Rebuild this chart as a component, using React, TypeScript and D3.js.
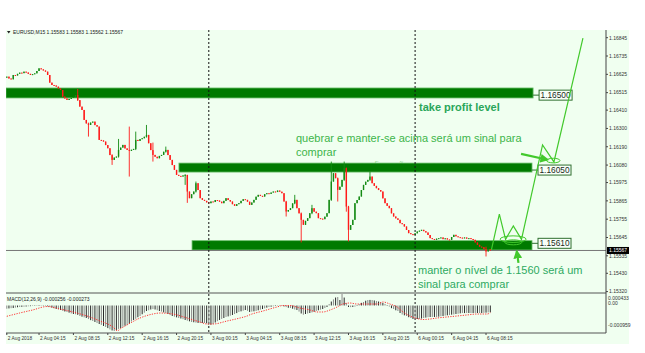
import React from 'react';
import * as d3 from 'd3';

// ---------- data ----------
const FIRST_BAR = 2; // bar index of first visible candle (2 Aug 00:30)
const BASE = 1.15;
// close prices, in 1e-5 above 1.15000, one per 15-min bar
const closePts = [
  1611, 1600, 1595, 1621, 1618, 1628, 1635, 1632, 1641, 1636,
  1628, 1621, 1626, 1631, 1645, 1661, 1655, 1648, 1641, 1621,
  1575, 1561, 1558, 1551, 1540, 1531, 1491, 1480, 1471, 1478,
  1483, 1490, 1501, 1470, 1431, 1411, 1351, 1330, 1321, 1335,
  1341, 1320, 1311, 1231, 1228, 1221, 1200, 1181, 1140, 1111,
  1125, 1131, 1171, 1185, 1201, 1180, 1171, 1165, 1172, 1177,
  1231, 1225, 1236, 1241, 1250, 1261, 1211, 1170, 1141, 1130,
  1121, 1135, 1141, 1160, 1171, 1140, 1111, 1080, 1051, 1021,
  1015, 1011, 1018, 1021, 921, 881, 905, 921, 971, 930,
  881, 871, 865, 856, 851, 861, 858, 870, 867, 860,
  851, 865, 881, 870, 861, 845, 835, 845, 851, 865,
  875, 871, 860, 841, 855, 871, 890, 901, 895, 891,
  905, 911, 907, 915, 921, 918, 927, 920, 911, 861,
  801, 810, 821, 850, 871, 821, 790, 751, 721, 745,
  761, 791, 821, 800, 791, 761, 758, 755, 770, 791,
  871, 981, 1031, 1001, 931, 950, 991, 1061, 831, 691,
  720, 751, 851, 870, 891, 930, 961, 980, 991, 1011,
  971, 955, 941, 930, 921, 880, 851, 835, 821, 790,
  771, 760, 751, 731, 725, 711, 690, 671, 665, 661,
  670, 681, 686, 691, 683, 675, 660, 641, 636, 631,
  638, 641, 645, 635, 640, 633, 631, 648, 661, 652,
  647, 644, 641, 645, 638, 641, 636, 631, 615, 601,
  590, 587, 575, 561, 575, 567,
];
const firstOpenPts = 1605;
// notable wicks: [bar, high, low] in 1e-5 above 1.15
const wickPts: [number, number, number][] = [
  [35, 1537, 1465], [40, 1335, 1251], [51, 1145, 1081], [54, 1237, 1125],
  [59, 1311, 1011], [62, 1281, 1170], [67, 1321, 1245], [70, 1215, 1101],
  [76, 1191, 1155], [85, 1025, 961], [86, 1021, 853], [90, 981, 915],
  [132, 865, 771], [136, 901, 845], [139, 795, 615], [144, 841, 785],
  [153, 1101, 865], [156, 1005, 861], [159, 1101, 985], [160, 1065, 800],
  [161, 835, 621], [171, 1041, 985], [225, 590, 531],
];
// MACD main (histogram), in 1e-6
const macdMicro = [
  -120, -110, -100, -94, -80, -65, -56, -50, -45, -38,
  -30, -25, -19, -15, -18, -19, -15, -12, -19, -30,
  -55, -80, -110, -130, -150, -169, -200, -225, -244, -270,
  -300, -320, -330, -350, -395, -420, -445, -470, -510, -550,
  -583, -620, -660, -696, -730, -770, -808, -850, -900, -940,
  -959, -921, -880, -846, -800, -760, -733, -680, -600, -545,
  -500, -440, -395, -330, -270, -207, -180, -150, -132, -150,
  -180, -207, -230, -260, -282, -320, -360, -395, -420, -445,
  -470, -490, -515, -545, -570, -595, -620, -630, -645, -658,
  -660, -655, -658, -670, -733, -720, -696, -640, -590, -545,
  -505, -470, -432, -410, -385, -357, -320, -285, -244, -220,
  -195, -169, -200, -244, -230, -220, -207, -180, -155, -132,
  -105, -80, -56, -45, -30, -19, -15, -12, -19, -35,
  -60, -85, -94, -120, -150, -169, -230, -300, -346, -320,
  -300, -282, -260, -235, -207, -180, -155, -132, -95, -56,
  56, 150, 230, 300, 320, 207, 433, 300, 94, -56,
  -60, -56, -40, -19, 56, 100, 132, 180, 207, 210,
  207, 190, 169, 150, 132, 94, 60, 19, -40, -100,
  -132, -180, -207, -282, -340, -370, -395, -440, -470, -508,
  -510, -508, -508, -490, -470, -455, -440, -432, -430, -432,
  -432, -420, -405, -395, -380, -370, -357, -345, -335, -320,
  -310, -295, -282, -285, -280, -282, -285, -282, -280, -282,
  -285, -282, -275, -270, -260, -256,
];
// MACD signal: [bar, value in 1e-6]
const signalPts: [number, number][] = [
  [2, -406], [8, -282], [14, -169], [20.7, -38], [26.8, -132], [32.8, -244],
  [39.3, -395], [45.4, -583], [51.4, -808], [53.5, -950], [54.7, -884],
  [57.9, -733], [64, -470], [70, -320], [73.3, -282], [79.3, -320],
  [85.9, -470], [91.9, -620], [95.2, -696], [98, -696], [104.5, -583],
  [110.5, -470], [113.8, -395], [115.2, -346], [121.2, -207], [127.7, -56],
  [130.5, 0], [133.8, 0], [138.4, -94], [143.1, -169], [146.4, -244],
  [149.1, -244], [152.4, -169], [155.7, -56], [158.4, 56], [161.7, 94],
  [164.9, 56], [167.8, 56], [171, 56], [174.3, 56], [177.1, 132],
  [180.3, 56], [183.6, -56], [186.4, -244], [189.6, -395], [192.9, -489],
  [195.7, -527], [198.9, -508], [202.2, -470], [206.8, -432], [211.5, -395],
  [216.1, -357], [220.8, -320], [225.5, -320], [227, -273],
];
const priceTicks = [
  1.16845, 1.16735, 1.16625, 1.16515, 1.1641, 1.163, 1.1619, 1.1608,
  1.15975, 1.15865, 1.15755, 1.15645, 1.15535, 1.1543, 1.1532,
];
const timeTickBars = [2, 17, 33, 49, 65, 81, 97, 113, 129, 145, 161, 177, 193, 209, 225];
const timeTickLabels = [
  '2 Aug 2018', '2 Aug 04:15', '2 Aug 08:15', '2 Aug 12:15', '2 Aug 16:15',
  '2 Aug 20:15', '3 Aug 00:15', '3 Aug 04:15', '3 Aug 08:15', '3 Aug 12:15',
  '3 Aug 16:15', '3 Aug 20:15', '6 Aug 00:15', '6 Aug 04:15', '6 Aug 08:15',
];
const daySeparatorBars = [96, 192];
const lastPrice = 1.15567;
const headerText = 'EURUSD,M15  1.15583 1.15583 1.15562 1.15567';
const macdHeader = 'MACD(12,26,9) -0.000256 -0.000273';
const macdTickLabels = ['0.000433', '0.00', '-0.000959'];
const macdTickValues = [0.000433, 0, -0.000959];
// level zones
const zoneFrom = [1.6, 82.1, 88.2];
const zoneTo = [246.9, 246.4, 246.4];
const zoneLow = [1.16483, 1.16038, 1.1557];
const zoneHigh = [1.16543, 1.16092, 1.15626];
const zoneLabels = ['1.16500', '1.16050', '1.15610'];
const zoneLevels = [1.165, 1.1605, 1.1561];
// hand-drawn scenario (bar, price)
const zigzag: [number, number][] = [
  [227.5, 1.15571], [231.2, 1.15785], [234.1, 1.15634], [237.7, 1.15715],
  [241.5, 1.15634], [251.3, 1.16201], [256.6, 1.16099], [270.1, 1.16843],
];
const ellipses: [number, number, number, number][] = [
  [237.6, 1.15635, 13, 3.3], [237.7, 1.15616, 8.5, 2.5], [256.3, 1.16107, 6.7, 2.3],
];
const arrows: [number, number, number, number][] = [
  [241.3, 1.16147, 253.6, 1.16112],
  [240.1, 1.15493, 239.3, 1.15562],
];

// ---------- layout ----------
const W = 645, H = 353;
const L = 6, R = 606;
const TOP = 30, MAIN_B = 293;
const M_TOP = 294, M_B = 331;
const FONT = 'Liberation Sans, Arial, sans-serif';

export default function App() {
  const x = d3.scaleLinear().domain([0, 227]).range([2.5, 2.5 + 227 * 2.149]);
  const y = d3.scaleLinear().domain([1.1532, 1.16845]).range([291.6, 37.7]);
  const ym = d3.scaleLinear().domain([-0.000959, 0.000433]).range([M_B, M_TOP]);

  const candles = closePts.map((c, k) => {
    const bar = FIRST_BAR + k;
    const open = BASE + (k === 0 ? firstOpenPts : closePts[k - 1]) / 1e5;
    const close = BASE + c / 1e5;
    const w = wickPts.find((d) => d[0] === bar);
    const hi = w ? BASE + w[1] / 1e5 : Math.max(open, close);
    const lo = w ? BASE + w[2] / 1e5 : Math.min(open, close);
    return { bar, open, close, hi, lo };
  });

  const signalLine = d3
    .line<[number, number]>()
    .x((d) => x(d[0]))
    .y((d) => ym(d[1] / 1e6))
    .curve(d3.curveMonotoneX)(signalPts) as string;

  const zz = d3
    .line<[number, number]>()
    .x((d) => x(d[0]))
    .y((d) => y(d[1]))(zigzag) as string;

  const green = '#007a00';
  const drawGreen = '#42c92c';

  const candleMark = (d: { bar: number; open: number; close: number; hi: number; lo: number }) => {
    const up = d.close >= d.open;
    const col = up ? '#138a13' : '#ff1a1a';
    const top = y(Math.max(d.open, d.close));
    const bot = y(Math.min(d.open, d.close));
    return (
      <g key={d.bar}>
        <line x1={x(d.bar)} x2={x(d.bar)} y1={y(d.hi)} y2={y(d.lo)} stroke={col} strokeWidth={0.9} />
        <rect x={x(d.bar) - 0.7} y={top} width={1.4} height={Math.max(1, bot - top)} fill={col} />
      </g>
    );
  };

  return (
    <svg
      width={W}
      height={H}
      style={{ position: 'absolute', left: 0, top: 0, background: '#fff' }}
      fontFamily={FONT}
    >
      <defs>
        <clipPath id="mainClip">
          <rect x={L} y={TOP} width={R - L} height={MAIN_B - TOP} />
        </clipPath>
        <clipPath id="macdClip">
          <rect x={L} y={M_TOP} width={R - L} height={M_B - M_TOP} />
        </clipPath>
        <marker id="ah" viewBox="0 0 10 10" refX="8" refY="5" markerWidth="4" markerHeight="4" orient="auto">
          <path d="M0,0 L10,5 L0,10 z" fill={drawGreen} />
        </marker>
      </defs>
      <rect x={L} y={TOP} width={629 - L} height={344 - TOP} fill="#f0fff0" />

      {/* header */}
      <path d="M7,31 L10.5,31 L8.75,33.5 z" fill="#222" />
      <text x={13} y={34} fontSize={5} fill="#222">{headerText}</text>

      {/* faint text, mostly hidden behind the middle zone */}
      <text x={352} y={167.5} fontSize={9} fill="#7fd07f" opacity={0.75}>~ confirmação para compra</text>

      <g clipPath="url(#mainClip)">
        {/* zones */}
        {zoneLabels.map((lab, k) => (
          <rect
            key={lab}
            x={x(zoneFrom[k])}
            y={y(zoneHigh[k])}
            width={x(zoneTo[k]) - x(zoneFrom[k])}
            height={y(zoneLow[k]) - y(zoneHigh[k])}
            fill={green}
            stroke="#6cbf6c"
            strokeWidth={0.8}
          />
        ))}
        {/* last price line */}
        <line x1={L} x2={R} y1={y(lastPrice)} y2={y(lastPrice)} stroke="#777" strokeWidth={1} />
        {/* candles */}
        {candles.map(candleMark)}
      </g>

      {/* day separators */}
      {daySeparatorBars.map((b) => (
        <line key={b} x1={x(b)} x2={x(b)} y1={TOP} y2={333} stroke="#111" strokeWidth={1} strokeDasharray="2,2" />
      ))}

      {/* level labels */}
      {zoneLabels.map((lab, k) => {
        const yy = y(zoneLevels[k]);
        const bx = x(zoneTo[k]) + 6;
        return (
          <g key={'l' + lab}>
            <line x1={x(zoneTo[k])} x2={bx} y1={yy} y2={yy} stroke="#2f6f2f" strokeWidth={1} />
            <rect x={bx} y={yy - 5} width={33} height={10} fill="#f8fff8" stroke="#2f6f2f" strokeWidth={1} />
            <text x={bx + 16.5} y={yy + 3} fontSize={8.3} textAnchor="middle" fill="#1a2a1a">{lab}</text>
          </g>
        );
      })}

      {/* annotations */}
      <text x={419} y={110.5} fontSize={11} fontWeight="bold" fill="#2aa65a">take profit level</text>
      <text x={296} y={142.3} fontSize={11} fill="#3db54a">quebrar e manter-se acima será um sinal para</text>
      <text x={296} y={156.3} fontSize={11} fill="#3db54a">comprar</text>
      <text x={418} y={274} fontSize={11} fill="#2eaa62">manter o nível de 1.1560 será um</text>
      <text x={418} y={288} fontSize={11} fill="#2eaa62">sinal para comprar</text>

      {/* drawn scenario */}
      <path d={zz} fill="none" stroke={drawGreen} strokeWidth={1.2} />
      {ellipses.map((e, k) => (
        <ellipse key={k} cx={x(e[0])} cy={y(e[1])} rx={e[2]} ry={e[3]} fill="none" stroke={drawGreen} strokeWidth={1} />
      ))}
      {arrows.map((a, k) => (
        <line key={k} x1={x(a[0])} y1={y(a[1])} x2={x(a[2])} y2={y(a[3])} stroke={drawGreen} strokeWidth={2.2} markerEnd="url(#ah)" />
      ))}

      {/* panel separator and axes */}
      <line x1={L} x2={R} y1={MAIN_B} y2={MAIN_B} stroke="#555" strokeWidth={1} />
      <line x1={L} x2={R} y1={333} y2={333} stroke="#555" strokeWidth={1} />
      <line x1={R} x2={R} y1={TOP} y2={333} stroke="#444" strokeWidth={1} />

      {/* right price axis */}
      {priceTicks.map((p) => (
        <g key={p}>
          <line x1={R} x2={R + 2} y1={y(p)} y2={y(p)} stroke="#444" />
          <text x={R + 3} y={y(p) + 1.8} fontSize={5} fill="#333">{p.toFixed(5)}</text>
        </g>
      ))}
      <rect x={R + 1} y={y(lastPrice) - 3.5} width={22} height={7} fill="#000" />
      <text x={R + 3} y={y(lastPrice) + 1.8} fontSize={5} fill="#fff">{lastPrice.toFixed(5)}</text>

      {/* MACD */}
      <text x={7} y={300.5} fontSize={5} fill="#222">{macdHeader}</text>
      <g clipPath="url(#macdClip)">
        {macdMicro.map((v, k) => (
          <line
            key={k}
            x1={x(FIRST_BAR + k)}
            x2={x(FIRST_BAR + k)}
            y1={ym(0)}
            y2={ym(v / 1e6)}
            stroke={k % 2 ? '#2a2a2a' : '#8a8a8a'}
            strokeWidth={1}
          />
        ))}
        <path d={signalLine} fill="none" stroke="#ff3030" strokeWidth={1} strokeDasharray="1.2,1.3" />
      </g>
      {macdTickLabels.map((lab, k) => (
        <text
          key={lab}
          x={R + 2}
          y={k === 0 ? 299.5 : k === 1 ? ym(macdTickValues[k]) - 0.5 : 327}
          fontSize={5}
          fill="#333"
        >
          {lab}
        </text>
      ))}

      {/* time axis */}
      {timeTickBars.map((b, k) => (
        <g key={b}>
          <line x1={x(b)} x2={x(b)} y1={333} y2={335} stroke="#444" />
          <text x={x(b) + 1} y={340} fontSize={4.8} fill="#333">{timeTickLabels[k]}</text>
        </g>
      ))}
    </svg>
  );
}
